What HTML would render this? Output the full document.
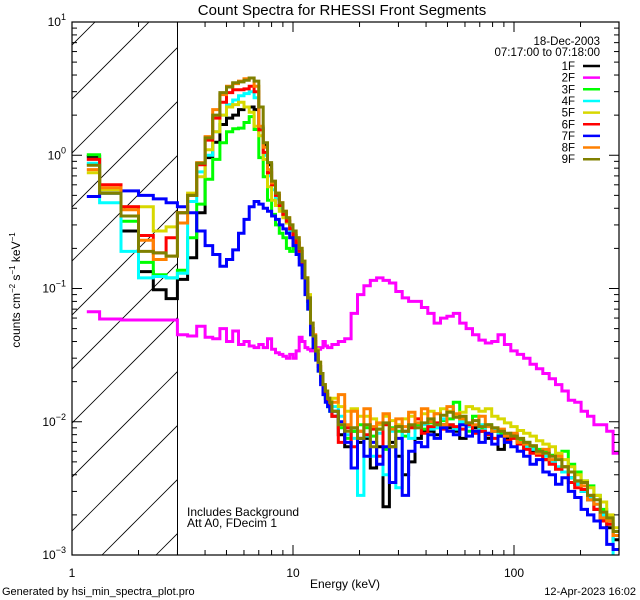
<!DOCTYPE html>
<html><head><meta charset="utf-8"><style>
body{margin:0;background:#fff;}
svg{display:block;font-family:"Liberation Sans",sans-serif;}
</style></head><body>
<svg id="chart" width="640" height="600" viewBox="0 0 640 600">
<defs>
<clipPath id="plotclip"><rect x="72" y="22" width="547" height="533"/></clipPath>
<clipPath id="hatchclip"><rect x="72" y="22" width="105.5" height="533"/></clipPath>
</defs>
<rect width="640" height="600" fill="#fff"/>
<text x="342" y="15" font-size="15" text-anchor="middle">Count Spectra for RHESSI Front Segments</text>
<g id="hatch" clip-path="url(#hatchclip)"></g>
<line x1="177.5" y1="22" x2="177.5" y2="555" stroke="#000" stroke-width="1"/>
<g id="series" clip-path="url(#plotclip)"></g>
<g id="axes"></g>
<text x="345" y="588" font-size="12" text-anchor="middle">Energy (keV)</text>
<text transform="translate(20,290) rotate(-90)" font-size="12" text-anchor="middle">counts cm<tspan dy="-5" font-size="8">−2</tspan><tspan dy="5"> s</tspan><tspan dy="-5" font-size="8">−1</tspan><tspan dy="5"> keV</tspan><tspan dy="-5" font-size="8">−1</tspan></text>
<text x="187" y="516" font-size="12">Includes Background</text>
<text x="187" y="527" font-size="12">Att A0, FDecim 1</text>
<text x="600" y="45" font-size="11.5" text-anchor="end">18-Dec-2003</text>
<text x="600" y="56" font-size="11.5" text-anchor="end">07:17:00 to 07:18:00</text>
<g id="legend"></g>
<text x="2" y="595" font-size="11">Generated by hsi_min_spectra_plot.pro</text>
<text x="636" y="595" font-size="11" text-anchor="end">12-Apr-2023 16:02</text>
</svg>
<script>
const seriesNames=["1F","2F","3F","4F","5F","6F","7F","8F","9F"];
const seriesColors=["#000000","#ff00ff","#00ff00","#00ffff","#d8d800","#ff0000","#0000ff","#ff8000","#808000"];
const xTickValues=[1,10,100];
const xTickLabels=["1","10","100"];
const yTickExponents=[-3,-2,-1,0,1];
// low-energy bins (1/3 keV) from 1.167 to 15 keV: 42 bins
const low1F=[0.98,0.52,0.27,0.134,0.098,0.084,0.117,0.17,0.37,0.96,1.25,1.7,1.9,2.0,2.2,2.3,2.3,2.2,1.6,1.2,0.85,0.6,0.5,0.42,0.36,0.32,0.28,0.25,0.22,0.19,0.15,0.11,0.08,0.05,0.04,0.032,0.026,0.021,0.018,0.016,0.014,0.013];
const low2F=[0.067,0.059,0.058,0.058,0.058,0.058,0.045,0.044,0.052,0.043,0.042,0.05,0.04,0.048,0.038,0.04,0.037,0.036,0.038,0.036,0.042,0.035,0.033,0.032,0.031,0.03,0.032,0.03,0.034,0.043,0.04,0.036,0.035,0.034,0.042,0.036,0.035,0.036,0.04,0.037,0.036,0.036];
const low3F=[1.01,0.52,0.32,0.157,0.127,0.12,0.137,0.24,0.43,0.66,0.93,1.24,1.5,1.58,1.6,1.76,1.95,1.56,0.96,0.69,0.46,0.36,0.3,0.26,0.24,0.2,0.19,0.22,0.2,0.17,0.13,0.1,0.07,0.045,0.036,0.03,0.024,0.02,0.017,0.015,0.013,0.012];
const low4F=[0.87,0.44,0.19,0.12,0.123,0.12,0.13,0.45,0.75,1.0,1.5,2.0,2.4,2.6,2.8,2.9,3.0,2.7,1.6,1.0,0.7,0.55,0.47,0.4,0.35,0.31,0.27,0.24,0.21,0.18,0.14,0.1,0.075,0.048,0.038,0.03,0.025,0.02,0.017,0.015,0.013,0.012];
const low5F=[0.74,0.55,0.41,0.41,0.27,0.29,0.37,0.52,0.69,1.1,1.5,2.0,2.3,2.4,2.5,2.3,2.1,1.65,1.4,0.93,0.58,0.46,0.42,0.38,0.34,0.31,0.28,0.26,0.23,0.2,0.16,0.12,0.09,0.055,0.044,0.035,0.028,0.023,0.019,0.017,0.015,0.014];
const low6F=[0.93,0.6,0.41,0.25,0.185,0.24,0.37,0.5,0.85,1.3,1.9,2.5,2.95,3.1,3.1,3.15,3.3,3.0,1.55,1.05,0.74,0.6,0.5,0.42,0.36,0.32,0.28,0.25,0.22,0.19,0.15,0.11,0.08,0.05,0.04,0.032,0.026,0.021,0.018,0.016,0.014,0.013];
const low7F=[0.49,0.52,0.54,0.5,0.47,0.44,0.41,0.37,0.27,0.21,0.18,0.147,0.165,0.195,0.26,0.33,0.41,0.45,0.43,0.4,0.38,0.35,0.33,0.3,0.28,0.26,0.24,0.21,0.18,0.15,0.12,0.09,0.07,0.045,0.036,0.029,0.024,0.019,0.016,0.014,0.013,0.012];
const low8F=[0.78,0.57,0.39,0.23,0.165,0.175,0.31,0.5,0.88,1.38,2.2,2.85,3.3,3.45,3.6,3.75,3.8,3.3,1.65,1.15,0.78,0.62,0.52,0.44,0.38,0.34,0.3,0.27,0.24,0.2,0.16,0.12,0.085,0.055,0.045,0.034,0.028,0.023,0.019,0.017,0.015,0.014];
const low9F=[0.84,0.52,0.35,0.19,0.185,0.175,0.37,0.5,0.87,1.35,2.0,2.95,3.25,3.5,3.55,3.65,3.8,3.6,2.3,1.24,0.88,0.64,0.52,0.44,0.38,0.34,0.3,0.27,0.24,0.2,0.16,0.12,0.085,0.055,0.044,0.034,0.028,0.023,0.019,0.017,0.015,0.014];
// high-energy bins (log spaced, 15–300 keV): 45 bins
const high1F=[0.011,0.008,0.0065,0.0085,0.007,0.0075,0.0045,0.0065,0.0023,0.007,0.0055,0.004,0.005,0.0075,0.0085,0.0085,0.008,0.0095,0.009,0.0085,0.0075,0.0095,0.009,0.0085,0.0075,0.0085,0.0062,0.0075,0.008,0.0072,0.0065,0.006,0.0058,0.0052,0.005,0.0045,0.0042,0.0038,0.0034,0.003,0.0026,0.0022,0.0019,0.0016,0.0013];
const high2F=[0.038,0.04,0.042,0.065,0.09,0.105,0.115,0.12,0.115,0.11,0.095,0.085,0.08,0.08,0.072,0.065,0.055,0.06,0.062,0.065,0.055,0.05,0.045,0.041,0.039,0.04,0.045,0.038,0.034,0.032,0.03,0.027,0.025,0.023,0.021,0.019,0.017,0.0145,0.014,0.012,0.011,0.0095,0.0095,0.0085,0.0058];
const high3F=[0.012,0.009,0.0075,0.0085,0.0095,0.009,0.0078,0.0088,0.0062,0.009,0.0085,0.0078,0.0092,0.0095,0.0088,0.0098,0.009,0.0102,0.0105,0.014,0.0095,0.0085,0.011,0.009,0.0095,0.0085,0.0082,0.008,0.0076,0.0072,0.007,0.0065,0.0062,0.006,0.0056,0.0055,0.006,0.0048,0.0042,0.0036,0.0033,0.0028,0.0022,0.0019,0.0015];
const high4F=[0.013,0.011,0.008,0.0075,0.0028,0.0078,0.0055,0.0082,0.004,0.0085,0.0032,0.0085,0.0075,0.009,0.0095,0.0088,0.009,0.0105,0.0095,0.0088,0.01,0.0092,0.0085,0.0095,0.008,0.0088,0.0078,0.008,0.0075,0.007,0.0065,0.0062,0.0058,0.0055,0.005,0.0046,0.0042,0.0038,0.0034,0.003,0.0027,0.0024,0.002,0.0017,0.0009];
const high5F=[0.015,0.013,0.012,0.0125,0.011,0.011,0.0105,0.0095,0.011,0.0102,0.0095,0.0105,0.011,0.0105,0.0115,0.012,0.0115,0.0125,0.012,0.011,0.0118,0.013,0.0125,0.012,0.0125,0.011,0.0105,0.0098,0.0092,0.0086,0.0082,0.0078,0.0072,0.0068,0.0065,0.0058,0.0052,0.0046,0.004,0.0036,0.0032,0.0028,0.0025,0.002,0.0016];
const high6F=[0.011,0.007,0.009,0.0065,0.0085,0.008,0.0088,0.0055,0.0095,0.0065,0.0092,0.0085,0.009,0.0105,0.0082,0.0092,0.0098,0.0088,0.0095,0.0092,0.0088,0.0095,0.0082,0.0085,0.008,0.0075,0.0078,0.0072,0.0075,0.0068,0.0062,0.0058,0.0056,0.0052,0.0048,0.0044,0.0046,0.0035,0.0032,0.0031,0.0028,0.0022,0.0018,0.0017,0.0014];
const high7F=[0.012,0.01,0.007,0.0045,0.0075,0.0055,0.007,0.0048,0.0065,0.0035,0.0075,0.0028,0.006,0.007,0.0065,0.008,0.0075,0.009,0.0085,0.008,0.0095,0.0078,0.0085,0.007,0.0082,0.0068,0.0078,0.007,0.0065,0.006,0.0055,0.0048,0.0052,0.0042,0.004,0.0034,0.0038,0.003,0.0027,0.0022,0.002,0.0018,0.0016,0.0012,0.0011];
const high8F=[0.014,0.016,0.0095,0.012,0.0085,0.0125,0.0092,0.0098,0.0115,0.0088,0.0105,0.0092,0.0118,0.0098,0.0125,0.01,0.0115,0.0095,0.013,0.0115,0.0105,0.0098,0.0095,0.011,0.0092,0.0085,0.0088,0.0078,0.0082,0.007,0.0068,0.0066,0.0058,0.0062,0.0052,0.0055,0.0046,0.0042,0.0036,0.0033,0.0026,0.0024,0.0019,0.0018,0.0014];
const high9F=[0.012,0.0095,0.0085,0.009,0.0075,0.0095,0.0065,0.0088,0.0098,0.0065,0.0092,0.0085,0.0095,0.009,0.0098,0.0105,0.0095,0.0112,0.0118,0.0108,0.011,0.0098,0.0102,0.0092,0.0095,0.009,0.0085,0.0082,0.0078,0.0075,0.007,0.0066,0.006,0.0058,0.0055,0.0052,0.0046,0.0042,0.0036,0.0035,0.0028,0.0026,0.0021,0.0019,0.0015];
const lowSeries=[low1F,low2F,low3F,low4F,low5F,low6F,low7F,low8F,low9F];
const highSeries=[high1F,high2F,high3F,high4F,high5F,high6F,high7F,high8F,high9F];

const NS="http://www.w3.org/2000/svg";
const X0=72,XDEC=221,YB=555,YDEC=133.25;
function xs(e){return X0+XDEC*Math.log10(e);}
function ys(v){return YB-YDEC*(Math.log10(v)+3);}
function mk(tag,attrs,parent){const el=document.createElementNS(NS,tag);for(const k in attrs)el.setAttribute(k,attrs[k]);parent.appendChild(el);return el;}

// bin edges
const edges=[1.167];
for(let k=4;k<=45;k++)edges.push(k/3);
for(let i=1;i<=45;i++)edges.push(15*Math.pow(20,i/45));

// hatch
const hatch=document.getElementById('hatch');
for(let c=-600;c<200;c+=54){
  const l=mk('line',{x1:c,y1:555,x2:c+600,y2:-45,stroke:'#000','stroke-width':0.8},hatch);
  
  
}

// series
const sg=document.getElementById('series');
lowSeries.forEach((lw,s)=>{
  const vals=lw.concat(highSeries[s]);
  let d='';
  for(let i=0;i<vals.length;i++){
    const y=ys(Math.max(vals[i],1e-4)).toFixed(1);
    const xa=xs(edges[i]).toFixed(1),xb=xs(edges[i+1]).toFixed(1);
    d+=(i===0?'M'+xa+' '+y:'V'+y)+'H'+xb;
  }
  const p=mk('path',{d:d,fill:'none',stroke:seriesColors[s],'stroke-width':3,'stroke-linejoin':'miter'},sg);
  
  
});

// axes
const ax=document.getElementById('axes');
const box=mk('rect',{x:72,y:22,width:547,height:533,fill:'none',stroke:'#000','stroke-width':1.2},ax);


for(let dec=0;dec<3;dec++){
  for(let m=1;m<10;m++){
    const e=m*Math.pow(10,dec);const x=xs(e);
    if(x>619)continue;
    const L=m===1?10:5;
    const t1=mk('line',{x1:x,y1:555,x2:x,y2:555-L,stroke:'#000'},ax);
    
    
    const t2=mk('line',{x1:x,y1:22,x2:x,y2:22+L,stroke:'#000'},ax);
    
    
  }
}
xTickValues.forEach((v,i)=>{
  const t=mk('text',{x:xs(v),y:577,'font-size':12,'text-anchor':'middle'},ax);
  t.textContent=xTickLabels[i];
  
  
});
yTickExponents.forEach(ex=>{
  for(let m=1;m<10;m++){
    if(ex===1&&m>1)break;
    const y=ys(m*Math.pow(10,ex));
    const L=m===1?10:5;
    const a=mk('line',{x1:72,y1:y,x2:72+L,y2:y,stroke:'#000'},ax);
    
    
    const b=mk('line',{x1:619,y1:y,x2:619-L,y2:y,stroke:'#000'},ax);
    
    
  }
  const t=mk('text',{x:66,y:ys(Math.pow(10,ex))+4,'font-size':12,'text-anchor':'end'},ax);
  
  
  t.appendChild(document.createTextNode('10'));
  const sp=mk('tspan',{dy:-6,'font-size':9},t);
  sp.textContent=(ex<0?'−':'')+Math.abs(ex);
});

// legend
const lg=document.getElementById('legend');
seriesNames.forEach((n,i)=>{
  const y=66+i*11.65;
  const t=mk('text',{x:575,y:y+4,'font-size':11.5,'text-anchor':'end'},lg);
  t.textContent=n;
  
  
  const l=mk('line',{x1:583,y1:y,x2:600,y2:y,stroke:seriesColors[i],'stroke-width':2.5},lg);
  
  
});
</script>
</body></html>
